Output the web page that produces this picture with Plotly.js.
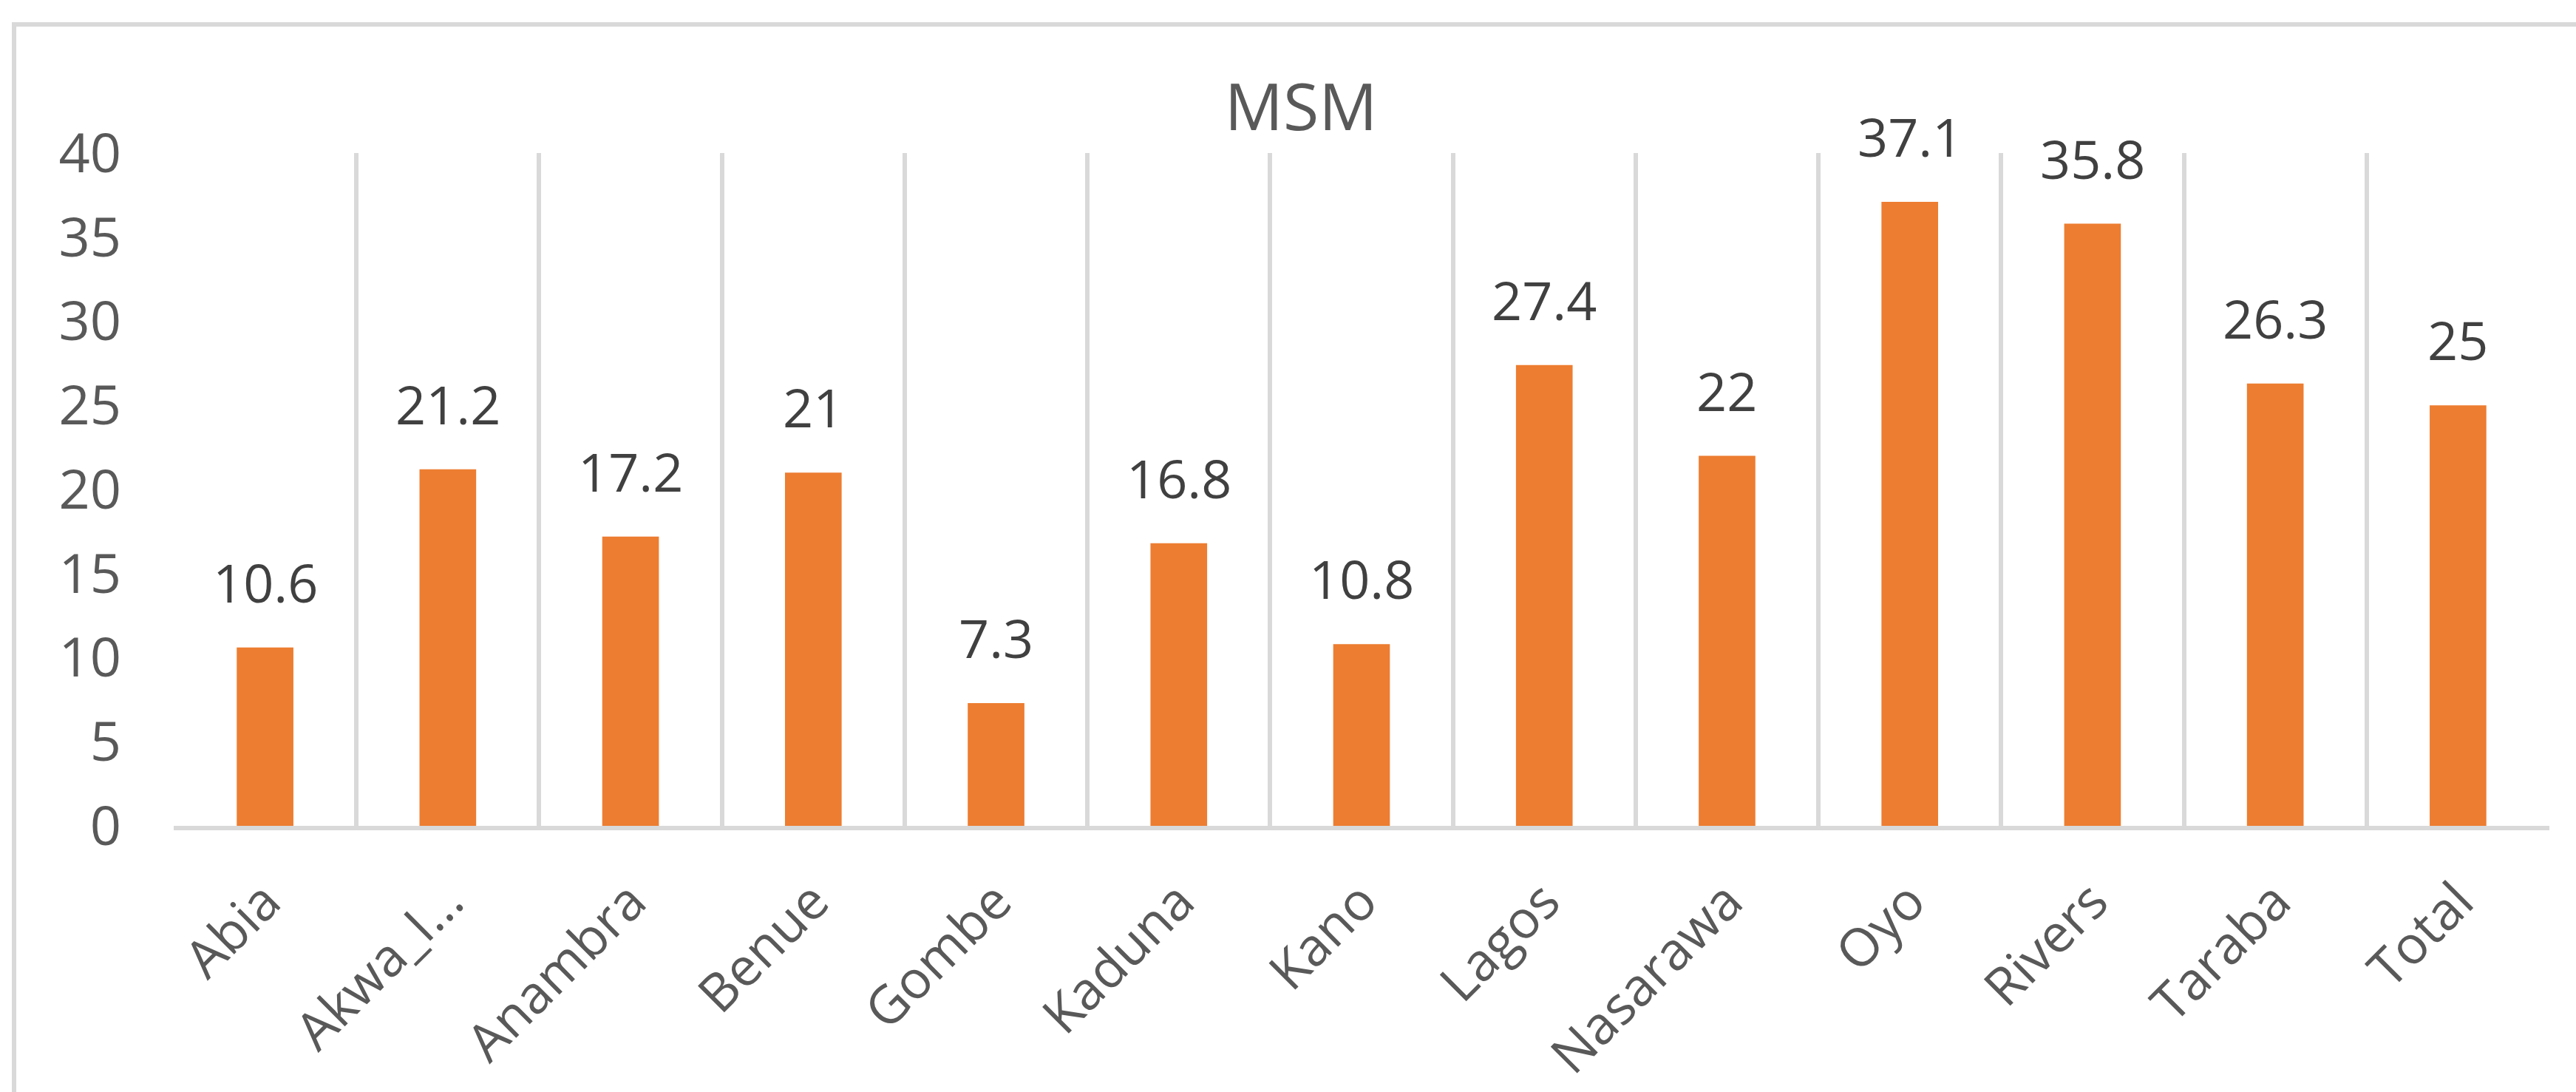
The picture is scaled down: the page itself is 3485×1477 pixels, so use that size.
<!DOCTYPE html>
<html>
<head>
<meta charset="utf-8">
<script src="https://cdn.plot.ly/plotly-3.0.1.min.js"></script>
<style>
  html, body { margin: 0; padding: 0; background: #ffffff; overflow: hidden; }
  #chart { width: 3485px; height: 1477px; position: absolute; left: 0; top: 0; }
  #frame { position: absolute; left: 16px; top: 30px; width: 3600px; height: 1600px;
           border-left: 6px solid #D9D9D9; border-top: 6px solid #D9D9D9; pointer-events: none; }
</style>
</head>
<body>
<div id="chart"></div>
<div id="frame"></div>
<script>
const categories = ["Abia", "Akwa_I...", "Anambra", "Benue", "Gombe", "Kaduna", "Kano",
                    "Lagos", "Nasarawa", "Oyo", "Rivers", "Taraba", "Total"];
const msmValues = [10.6, 21.2, 17.2, 21, 7.3, 16.8, 10.8, 27.4, 22, 37.1, 35.8, 26.3, 25];
const yTickValues = [0, 5, 10, 15, 20, 25, 30, 35, 40];

const fontFamily = '"Open Sans", "Noto Sans", "DejaVu Sans", sans-serif';

const trace = {
  type: 'bar',
  x: categories,
  y: msmValues,
  marker: { color: '#ED7D31' },
  hoverinfo: 'x+y'
};

const labelAnnotations = categories.map((c, i) => ({
  x: c,
  y: msmValues[i],
  xref: 'x',
  yref: 'y',
  text: String(msmValues[i]),
  showarrow: false,
  xanchor: 'center',
  yanchor: 'bottom',
  yshift: 38,
  font: { family: fontFamily, size: 72, color: '#404040' }
}));

const layout = {
  width: 3485,
  height: 1477,
  margin: { l: 235, r: 36, t: 207, b: 360, pad: 0 },
  paper_bgcolor: '#ffffff',
  plot_bgcolor: '#ffffff',
  showlegend: false,
  bargap: 0.69,
  title: {
    text: 'MSM',
    font: { family: fontFamily, size: 88, color: '#595959' },
    xref: 'paper',
    x: 0.4745,
    xanchor: 'center',
    yref: 'container',
    y: 1 - 145 / 1477,
    yanchor: 'middle'
  },
  xaxis: {
    type: 'category',
    range: [-0.5, categories.length - 0.5],
    tickson: 'boundaries',
    showgrid: true,
    gridcolor: '#D9D9D9',
    gridwidth: 6,
    showline: true,
    linecolor: '#D9D9D9',
    linewidth: 6,
    ticks: '',
    tickangle: -45,
    tickfont: { family: fontFamily, size: 71, color: '#595959' },
    ticklabelstandoff: 26,
    zeroline: false,
    fixedrange: true
  },
  yaxis: {
    range: [0, 40],
    tickvals: yTickValues,
    ticktext: yTickValues.map(String),
    showgrid: false,
    zeroline: false,
    showline: false,
    ticks: '',
    tickfont: { family: fontFamily, size: 74, color: '#595959' },
    ticklabelstandoff: 70,
    fixedrange: true
  },
  annotations: labelAnnotations
};

Plotly.newPlot('chart', [trace], layout, { displayModeBar: false, staticPlot: true });
</script>
</body>
</html>
